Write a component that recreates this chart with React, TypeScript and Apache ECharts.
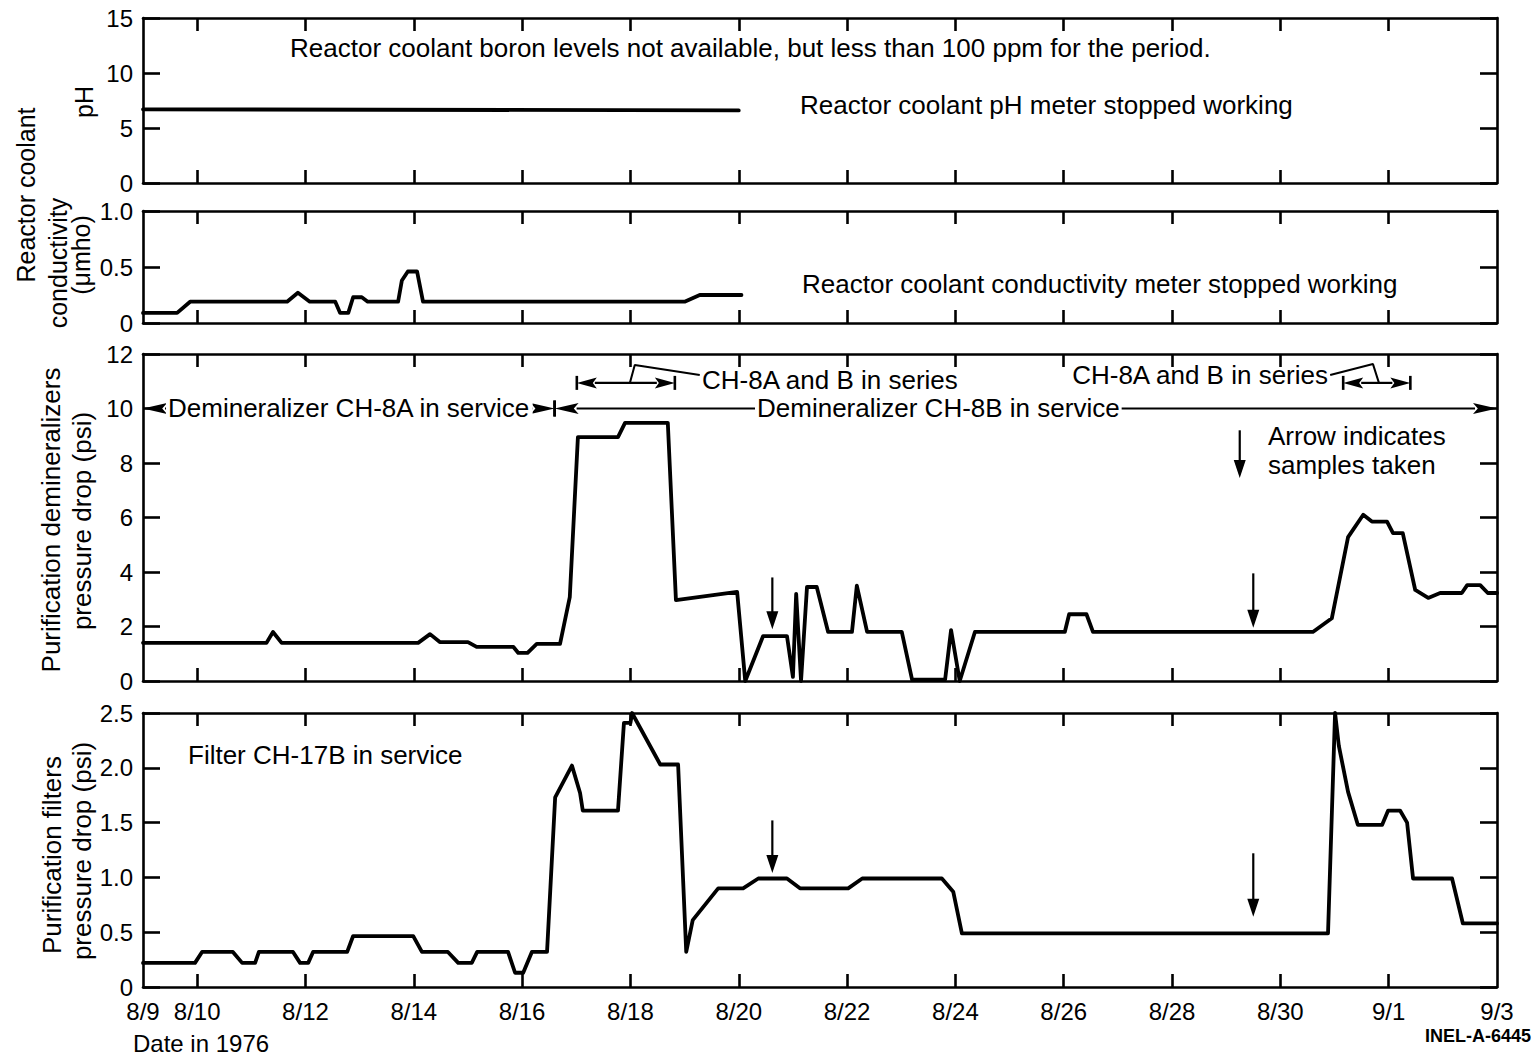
import React, { useEffect, useRef } from "react";
import * as echarts from "echarts";

const FONT = '"Liberation Sans", Arial, Helvetica, sans-serif';

// Date axis: days counted from midnight of 8/9/1976
const dateTickDays = [0, 1, 3, 5, 7, 9, 11, 13, 15, 17, 19, 21, 23, 25];
const dateTickLabels = ["8/9", "8/10", "8/12", "8/14", "8/16", "8/18", "8/20", "8/22", "8/24", "8/26", "8/28", "8/30", "9/1", "9/3"];
const innerTickDays = [1, 3, 5, 7, 9, 11, 13, 15, 17, 19, 21, 23];

const phTickLabels = ["0", "5", "10", "15"];
const conductivityTickLabels = ["0", "0.5", "1.0"];
const deminTickLabels = ["0", "2", "4", "6", "8", "10", "12"];
const filterTickLabels = ["0", "0.5", "1.0", "1.5", "2.0", "2.5"];

// Reactor coolant pH, until the meter stopped working
const phReadings = [[0, 6.7], [11.0, 6.6]];

// Reactor coolant conductivity (µmho)
const conductivityReadings = [
  [0, 0.09], [0.63, 0.09], [0.87, 0.19], [2.66, 0.19], [2.86, 0.27], [3.08, 0.19],
  [3.55, 0.19], [3.64, 0.09], [3.79, 0.09], [3.88, 0.23], [4.04, 0.23], [4.15, 0.19],
  [4.71, 0.19], [4.78, 0.38], [4.89, 0.46], [5.06, 0.46], [5.17, 0.19], [10.0, 0.19],
  [10.28, 0.25], [11.05, 0.25],
];

// Purification demineralizers pressure drop (psi)
const deminPressureDrop = [
  [0, 1.4], [2.28, 1.4], [2.4, 1.8], [2.56, 1.4], [5.08, 1.4], [5.3, 1.72], [5.48, 1.43],
  [6.0, 1.43], [6.16, 1.25], [6.84, 1.25], [6.93, 1.03], [7.1, 1.03], [7.27, 1.36],
  [7.7, 1.36], [7.88, 3.08], [8.03, 8.95], [8.77, 8.95], [8.9, 9.47], [9.69, 9.47],
  [9.84, 2.97], [10.97, 3.27], [11.12, 0], [11.45, 1.65], [11.89, 1.65], [12.0, 0.15],
  [12.06, 3.2], [12.15, 0], [12.26, 3.45], [12.44, 3.45], [12.65, 1.8], [13.09, 1.8],
  [13.18, 3.5], [13.37, 1.8], [14.01, 1.8], [14.2, 0.05], [14.81, 0.05], [14.92, 1.87],
  [15.08, 0], [15.36, 1.8], [17.02, 1.8], [17.1, 2.45], [17.42, 2.45], [17.54, 1.8],
  [21.6, 1.8], [21.95, 2.3], [22.25, 5.28], [22.53, 6.1], [22.69, 5.85], [22.97, 5.85],
  [23.08, 5.43], [23.26, 5.43], [23.49, 3.34], [23.73, 3.05], [23.95, 3.23], [24.35, 3.23],
  [24.45, 3.52], [24.69, 3.52], [24.83, 3.23], [25, 3.23],
];

// Purification filters pressure drop (psi)
const filterPressureDrop = [
  [0, 0.22], [0.96, 0.22], [1.09, 0.32], [1.66, 0.32], [1.83, 0.22], [2.07, 0.22],
  [2.14, 0.32], [2.77, 0.32], [2.9, 0.22], [3.05, 0.22], [3.14, 0.32], [3.77, 0.32],
  [3.88, 0.465], [4.99, 0.465], [5.15, 0.32], [5.63, 0.32], [5.82, 0.22], [6.07, 0.22],
  [6.17, 0.32], [6.74, 0.32], [6.87, 0.13], [7.02, 0.13], [7.18, 0.32], [7.46, 0.32],
  [7.61, 1.73], [7.92, 2.02], [8.07, 1.77], [8.12, 1.61], [8.77, 1.61], [8.88, 2.41],
  [9.0, 2.41], [9.03, 2.5], [9.55, 2.03], [9.88, 2.03], [10.03, 0.32], [10.15, 0.61],
  [10.62, 0.9], [11.08, 0.9], [11.36, 0.99], [11.89, 0.99], [12.13, 0.9], [13.02, 0.9],
  [13.28, 0.99], [14.75, 0.99], [14.96, 0.87], [15.12, 0.49], [21.88, 0.49], [22.01, 2.5],
  [22.08, 2.2], [22.25, 1.78], [22.43, 1.48], [22.88, 1.48], [22.99, 1.61], [23.21, 1.61],
  [23.34, 1.5], [23.45, 0.99], [24.17, 0.99], [24.37, 0.58], [25, 0.58],
];

// Sampling events: [day, arrow tail value, arrow tip value]
const deminSampleArrows = [[11.62, 3.8, 1.9], [20.5, 3.95, 1.95]];
const filterSampleArrows = [[11.62, 1.52, 1.04], [20.5, 1.22, 0.64]];
const legendArrow = [[20.25, 9.2, 7.45]];

// Demineralizer in service: [start day, end day, level]
const serviceSpans = [[0, 7.6, 10], [7.6, 25, 10]];
// Both demineralizers in series: [start day, end day, level]
const seriesSpans = [[8.01, 9.82, 10.94], [22.16, 23.4, 10.94]];
const seriesLeaderLeft = [[8.99, 10.94], [9.08, 11.6], [10.28, 11.23]];
const seriesLeaderRight = [[21.92, 11.23], [22.71, 11.63], [22.82, 10.94]];

const LEFT = 143;
const RIGHT = 42;
const panels = [
  { top: 18, height: 165, max: 15, interval: 5, labels: phTickLabels },
  { top: 211, height: 112, max: 1, interval: 0.5, labels: conductivityTickLabels },
  { top: 354, height: 327, max: 12, interval: 2, labels: deminTickLabels },
  { top: 713, height: 274, max: 2.5, interval: 0.5, labels: filterTickLabels },
];

const BLACK = "#000";
const NOTE_SIZE = 26;
const TICK_SIZE = 24;

function xAxisFor(gridIndex: number, position: "top" | "bottom", showLabel: boolean) {
  return {
    type: "value",
    gridIndex,
    position,
    min: 0,
    max: 25,
    axisLine: { show: true, onZero: false, lineStyle: { color: BLACK, width: 2.6 } },
    axisTick: {
      show: true,
      inside: true,
      length: 13,
      customValues: innerTickDays,
      lineStyle: { color: BLACK, width: 2.6 },
    },
    axisLabel: {
      show: showLabel,
      customValues: dateTickDays,
      margin: 12,
      color: BLACK,
      fontSize: TICK_SIZE,
      fontFamily: FONT,
      formatter: (v: number) => {
        const i = dateTickDays.indexOf(Math.round(v));
        return i >= 0 ? dateTickLabels[i] : "";
      },
    },
    splitLine: { show: false },
  };
}

function yAxisFor(gridIndex: number, position: "left" | "right", p: any, showLabel: boolean) {
  return {
    type: "value",
    gridIndex,
    position,
    min: 0,
    max: p.max,
    interval: p.interval,
    axisLine: { show: true, onZero: false, lineStyle: { color: BLACK, width: 2.6 } },
    axisTick: { show: true, inside: true, length: 17, lineStyle: { color: BLACK, width: 2.6 } },
    axisLabel: {
      show: showLabel,
      margin: 10,
      color: BLACK,
      fontSize: TICK_SIZE,
      fontFamily: FONT,
      formatter: (v: number) => p.labels[Math.round(v / p.interval)] ?? "",
    },
    splitLine: { show: false },
  };
}

function renderDownArrow(_p: any, api: any) {
  const tail = api.coord([api.value(0), api.value(1)]);
  const tip = api.coord([api.value(0), api.value(2)]);
  const headLen = 18;
  const headHalf = 6;
  return {
    type: "group",
    children: [
      {
        type: "line",
        shape: { x1: tail[0], y1: tail[1], x2: tip[0], y2: tip[1] - headLen + 1 },
        style: { stroke: BLACK, lineWidth: 2.2 },
      },
      {
        type: "polygon",
        shape: {
          points: [
            [tip[0] - headHalf, tip[1] - headLen],
            [tip[0] + headHalf, tip[1] - headLen],
            [tip[0], tip[1]],
          ],
        },
        style: { fill: BLACK },
      },
    ],
  };
}

function spanRenderer(headLen: number, headHalf: number, barHalf: number, barsAtBothEnds: boolean) {
  return (_p: any, api: any) => {
    const s = api.value(0);
    const e = api.value(1);
    const lvl = api.value(2);
    const a = api.coord([s, lvl]);
    const b = api.coord([e, lvl]);
    const children: any[] = [
      {
        type: "line",
        shape: { x1: a[0] + headLen - 2, y1: a[1], x2: b[0] - headLen + 2, y2: b[1] },
        style: { stroke: BLACK, lineWidth: 2.2 },
      },
      {
        type: "polygon",
        shape: {
          points: [
            [a[0], a[1]],
            [a[0] + headLen, a[1] - headHalf],
            [a[0] + headLen * 0.8, a[1]],
            [a[0] + headLen, a[1] + headHalf],
          ],
        },
        style: { fill: BLACK },
      },
      {
        type: "polygon",
        shape: {
          points: [
            [b[0], b[1]],
            [b[0] - headLen, b[1] - headHalf],
            [b[0] - headLen * 0.8, b[1]],
            [b[0] - headLen, b[1] + headHalf],
          ],
        },
        style: { fill: BLACK },
      },
    ];
    const bar = (pt: number[]) =>
      children.push({
        type: "line",
        shape: { x1: pt[0], y1: pt[1] - barHalf, x2: pt[0], y2: pt[1] + barHalf },
        style: { stroke: BLACK, lineWidth: 2.6 },
      });
    if (barsAtBothEnds || s > 0) bar(a);
    if (barsAtBothEnds || e < 25) bar(b);
    return { type: "group", children };
  };
}

function lineSeries(panel: number, data: number[][]) {
  return {
    type: "line",
    xAxisIndex: panel * 2,
    yAxisIndex: panel * 2,
    data,
    showSymbol: false,
    symbol: "none",
    silent: true,
    lineStyle: { color: BLACK, width: 3.8, cap: "round", join: "round" },
    z: 3,
  };
}

function leaderSeries(data: number[][]) {
  return {
    type: "line",
    xAxisIndex: 4,
    yAxisIndex: 4,
    data,
    showSymbol: false,
    symbol: "none",
    silent: true,
    lineStyle: { color: BLACK, width: 2 },
    z: 4,
  };
}

function customSeries(panel: number, data: number[][], renderItem: any) {
  return {
    type: "custom",
    xAxisIndex: panel * 2,
    yAxisIndex: panel * 2,
    data,
    renderItem,
    silent: true,
    clip: false,
    z: 4,
  };
}

function label(text: string, x: number, y: number, opts: any = {}) {
  const align = opts.align ?? "left";
  const style: any = {
    text,
    font: `${opts.weight ?? "normal"} ${opts.size ?? NOTE_SIZE}px ${FONT}`,
    fill: BLACK,
    align,
    verticalAlign: "middle",
    textAlign: align,
    textVerticalAlign: "middle",
  };
  if (opts.bg) {
    style.backgroundColor = "#fff";
    style.padding = [0, 2];
  }
  return { type: "text", x, y, rotation: opts.rot ?? 0, z: 100, silent: true, style };
}

function buildOption() {
  const ROT = Math.PI / 2;
  return {
    animation: false,
    backgroundColor: "#fff",
    grid: panels.map((p) => ({ left: LEFT, right: RIGHT, top: p.top, height: p.height })),
    xAxis: panels.flatMap((_p, i) => [xAxisFor(i, "bottom", i === 3), xAxisFor(i, "top", false)]),
    yAxis: panels.flatMap((p, i) => [yAxisFor(i, "left", p, true), yAxisFor(i, "right", p, false)]),
    series: [
      lineSeries(0, phReadings),
      lineSeries(1, conductivityReadings),
      lineSeries(2, deminPressureDrop),
      lineSeries(3, filterPressureDrop),
      customSeries(2, deminSampleArrows, renderDownArrow),
      customSeries(2, legendArrow, renderDownArrow),
      customSeries(3, filterSampleArrows, renderDownArrow),
      customSeries(2, serviceSpans, spanRenderer(24, 5.5, 8, false)),
      customSeries(2, seriesSpans, spanRenderer(20, 5.5, 7, true)),
      leaderSeries(seriesLeaderLeft),
      leaderSeries(seriesLeaderRight),
    ],
    graphic: [
      // axis titles
      label("Reactor coolant", 26, 195, { size: 25, align: "center", rot: ROT }),
      label("pH", 84, 102, { size: 25, align: "center", rot: ROT }),
      label("conductivity", 58, 263, { size: 25, align: "center", rot: ROT }),
      label("(\u03bcmho)", 81, 255, { size: 25, align: "center", rot: ROT }),
      label("Purification demineralizers", 51, 520, { size: 26, align: "center", rot: ROT }),
      label("pressure drop (psi)", 82, 521, { size: 26, align: "center", rot: ROT }),
      label("Purification filters", 52, 855, { size: 26, align: "center", rot: ROT }),
      label("pressure drop (psi)", 82, 851, { size: 26, align: "center", rot: ROT }),
      // notes
      label("Reactor coolant boron levels not available, but less than 100 ppm for the period.", 290, 48),
      label("Reactor coolant pH meter stopped working", 800, 105),
      label("Reactor coolant conductivity meter stopped working", 802, 284),
      label("Filter CH-17B in service", 188, 755),
      label("Demineralizer CH-8A in service", 166, 408, { bg: true }),
      label("Demineralizer CH-8B in service", 755, 408, { bg: true }),
      label("CH-8A and B in series", 702, 380),
      label("CH-8A and B in series", 1328, 375, { align: "right" }),
      label("Arrow indicates", 1268, 436),
      label("samples taken", 1268, 465),
      label("Date in 1976", 133, 1043, { size: 24 }),
      label("INEL-A-6445", 1531, 1036, { size: 18, weight: "bold", align: "right" }),
    ],
  };
}

export default function App() {
  const ref = useRef<HTMLDivElement>(null);
  useEffect(() => {
    if (!ref.current) return;
    const chart = echarts.init(ref.current, null, { renderer: "svg" });
    chart.setOption(buildOption() as any);
    return () => chart.dispose();
  }, []);
  return (
    <div
      ref={ref}
      style={{ position: "fixed", left: 0, top: 0, width: 1539, height: 1057, background: "#fff" }}
    />
  );
}
